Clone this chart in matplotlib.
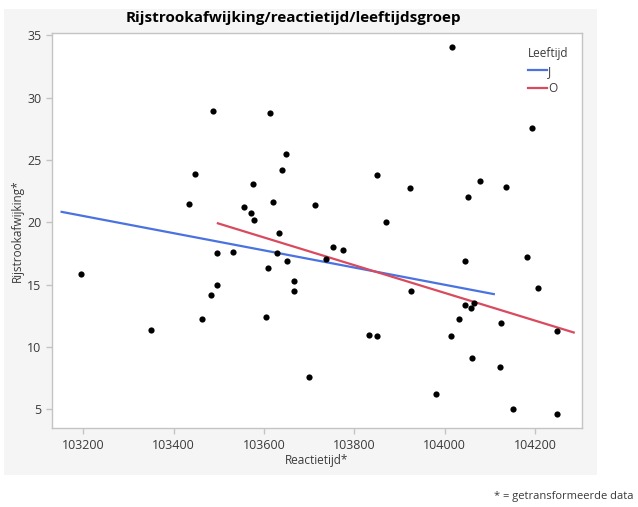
import matplotlib
matplotlib.use('Agg')
import matplotlib.pyplot as plt
from matplotlib.patches import Rectangle

plt.rcParams['font.family'] = ['Open Sans', 'DejaVu Sans']

# reactietijd*, rijstrookafwijking*
rt = [103488, 103614, 103648, 103448, 103640, 103576, 103434, 103620, 103556, 103571,
      103712, 103577, 104016, 104193, 103851, 103924, 104079, 104135, 104052, 103871,
      103195, 103351, 103463, 103483, 103496, 103496, 103532, 103605, 103610, 103628,
      103634, 103652, 103666, 103667, 103700, 103737, 103752, 103776, 103833, 103851,
      103926, 103982, 104014, 104032, 104045, 104045, 104058, 104065, 104060, 104124,
      104123, 104152, 104183, 104207, 104248, 104249]
ra = [28.92, 28.74, 25.5, 23.9, 24.16, 23.1, 21.48, 21.64, 21.26, 20.76,
      21.42, 20.2, 34.05, 27.56, 23.81, 22.79, 23.3, 22.85, 22.0, 20.06,
      15.82, 11.37, 12.26, 14.19, 15.01, 17.51, 17.62, 12.44, 16.36, 17.51,
      19.12, 16.9, 15.31, 14.45, 7.57, 17.08, 18.02, 17.78, 10.97, 10.87,
      14.51, 6.23, 10.89, 12.28, 16.86, 13.33, 13.14, 13.52, 9.15, 11.91,
      8.42, 5.05, 17.22, 14.73, 11.24, 4.64]

# fitlijnen per leeftijdsgroep
fit_J_x = [103152, 104109]
fit_J_y = [20.84, 14.24]
fit_O_x = [103498, 104286]
fit_O_y = [19.92, 11.16]

xticks = [103200, 103400, 103600, 103800, 104000, 104200]
yticks = [5, 10, 15, 20, 25, 30, 35]

fig = plt.figure(figsize=(6.38, 5.07), dpi=100)
fig.patch.set_facecolor('white')
bg = Rectangle((4/638, 1-475/507), 593/638, 466/507,
               transform=fig.transFigure, facecolor='#f5f5f5',
               edgecolor='none', zorder=-10)
fig.patches.append(bg)

ax = fig.add_axes([51.7/638, 1-428.3/507, 530.6/638, 395/507])
ax.set_zorder(1)
ax.set_facecolor('white')

ax.plot(fit_J_x, fit_J_y, color='#4a72e0', lw=1.6, label='J', zorder=2)
ax.plot(fit_O_x, fit_O_y, color='#d94a5e', lw=1.6, label='O', zorder=2)
ax.scatter(rt, ra, s=20, color='black', zorder=3, linewidths=0)

ax.set_xlim(103130, 104305)
ax.set_ylim(3.47, 35.17)
ax.set_xticks(xticks)
ax.set_xticklabels([str(v) for v in xticks])
ax.set_yticks(yticks)

for s in ax.spines.values():
    s.set_color('#c4c4c4')
    s.set_linewidth(1.0)
ax.tick_params(axis='both', colors='#c4c4c4', labelcolor='#3a3a3a',
               labelsize=9, length=4, width=1)

ax.set_xlabel('Reactietijd*', fontsize=8.5, color='#3a3a3a', labelpad=2)
ax.set_ylabel('Rijstrookafwijking*', fontsize=8.5, color='#3a3a3a', labelpad=2)

fig.text(293/638, 1-18/507, 'Rijstrookafwijking/reactietijd/leeftijdsgroep',
         ha='center', va='center', fontsize=11, fontweight='bold', color='black')

leg = ax.legend(title='Leeftijd', loc='upper right', frameon=False, fontsize=8.5,
                title_fontsize=8.5, handlelength=1.6, handletextpad=0.15,
                labelspacing=0.35, borderaxespad=0.8, alignment='left')
for t in leg.get_texts():
    t.set_color('#3a3a3a')
leg.get_title().set_color('#3a3a3a')

fig.text(634/638, 1-497/507, '* = getransformeerde data', ha='right', va='center',
         fontsize=8, color='#3a3a3a')

fig.savefig('out.png', dpi=100)
